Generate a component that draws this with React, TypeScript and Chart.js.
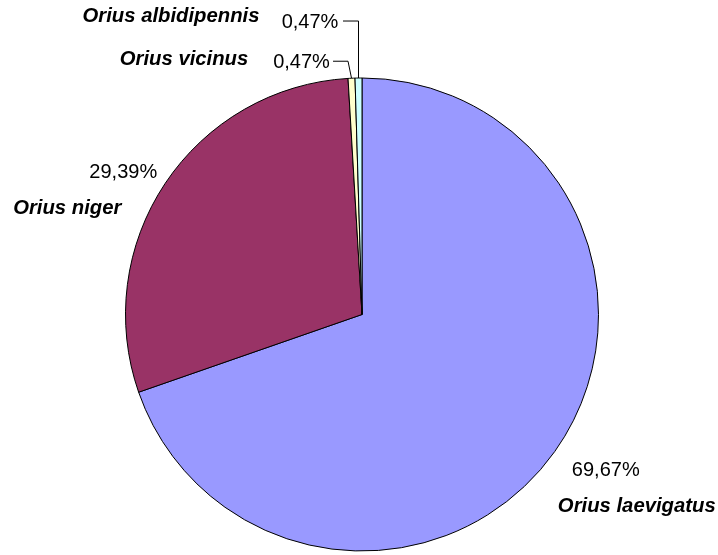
import React, { useEffect, useRef } from "react";
import { Chart, registerables } from "chart.js";

Chart.register(...registerables);

const categories = ["Orius laevigatus", "Orius niger", "Orius vicinus", "Orius albidipennis"];
const values = [69.67, 29.39, 0.47, 0.47];
const percentLabels = ["69,67%", "29,39%", "0,47%", "0,47%"];
const colors = ["#9999FF", "#993366", "#FFFFCC", "#CCFFFF"];

// label layout relative to the slice's outer-edge midpoint
const labelLayout = [
  { pdx: 51, pdy: 24.5, ndx: 82, ndy: 60, leader: null },
  { pdx: -42, pdy: -4.8, ndx: -98, ndy: 31, leader: null },
  { pdx: -50, pdy: -10.3, ndx: -167.5, ndy: -13.3, leader: { ex: -3.5, ey: -17, hx: -18.5 } },
  { pdx: -48.5, pdy: -50, ndx: -187.5, ndy: -56.3, leader: { ex: 0, ey: -57, hx: -15.5 } },
];

const labelPlugin = {
  id: "pieLabels",
  afterDraw(chart: any) {
    const ctx = chart.ctx;
    const meta = chart.getDatasetMeta(0);
    meta.data.forEach((arc: any, i: number) => {
      const { x, y, startAngle, endAngle, outerRadius } = arc.getProps(
        ["x", "y", "startAngle", "endAngle", "outerRadius"],
        true
      );
      const a = (startAngle + endAngle) / 2;
      const ex = x + Math.cos(a) * outerRadius;
      const ey = y + Math.sin(a) * outerRadius;
      const L = labelLayout[i];
      ctx.save();
      if (L.leader) {
        ctx.strokeStyle = "#000";
        ctx.lineWidth = 1;
        ctx.beginPath();
        ctx.moveTo(ex, ey);
        ctx.lineTo(ex + L.leader.ex, ey + L.leader.ey);
        ctx.lineTo(ex + L.leader.hx, ey + L.leader.ey);
        ctx.stroke();
      }
      ctx.fillStyle = "#000";
      ctx.textAlign = "center";
      ctx.textBaseline = "alphabetic";
      ctx.font = "20px 'Liberation Sans', Arial, sans-serif";
      ctx.fillText(percentLabels[i], ex + L.pdx, ey + L.pdy);
      ctx.font = "italic bold 20.3px 'Liberation Sans', Arial, sans-serif";
      ctx.fillText(categories[i], ex + L.ndx, ey + L.ndy);
      ctx.restore();
    });
  },
};

export default function App() {
  const ref = useRef<HTMLCanvasElement>(null);
  useEffect(() => {
    if (!ref.current) return;
    const chart = new Chart(ref.current, {
      type: "pie",
      data: {
        labels: categories,
        datasets: [
          {
            data: values,
            backgroundColor: colors,
            borderColor: "#000",
            borderWidth: 1,
          },
        ],
      },
      options: {
        responsive: false,
        animation: false,
        layout: { padding: { left: 125, right: 119, top: 77.5, bottom: 3.5 } },
        plugins: { legend: { display: false }, tooltip: { enabled: false } },
      },
      plugins: [labelPlugin],
    });
    return () => chart.destroy();
  }, []);
  return (
    <div style={{ position: "fixed", left: 0, top: 0, width: 718, height: 555, background: "#fff" }}>
      <canvas ref={ref} width={718} height={555} />
    </div>
  );
}
